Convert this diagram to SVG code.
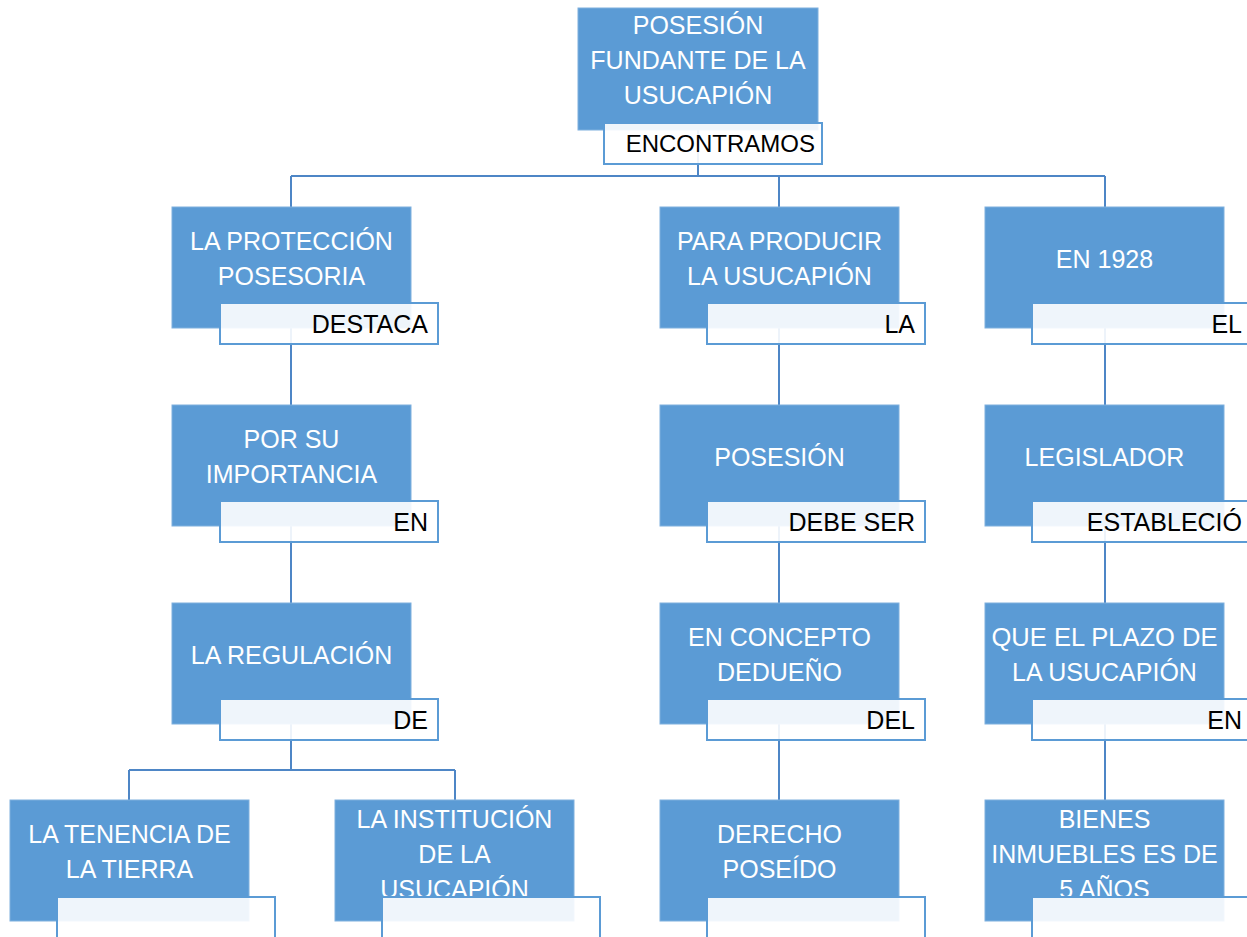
<svg xmlns="http://www.w3.org/2000/svg" width="1247" height="937" viewBox="0 0 1247 937">
<style>
.box{fill:#5B9BD5;stroke:#7FB0DE;stroke-width:1}
.lbl{fill:#FFFFFF;fill-opacity:0.9;stroke:#5B9BD5;stroke-width:2}
.t{font-family:"Liberation Sans",Arial,sans-serif;font-size:25px;fill:#FFFFFF;text-anchor:middle}
.l{font-family:"Liberation Sans",Arial,sans-serif;font-size:25px;fill:#000000;text-anchor:end}
.c{fill:none;stroke:#4E86C6;stroke-width:2}
</style>
<rect width="1247" height="937" fill="#FFFFFF"/>
<g id="connectors">
<path class="c" d="M698,130 V176 M291,176 H1105 M291,176 V207 M779,176 V207 M1105,176 V207"/>
<path class="c" d="M291,328 V405 M291,526 V603 M291,724 V770 M129,770 H455 M129,770 V800 M455,770 V800"/>
<path class="c" d="M779,328 V405 M779,526 V603 M779,724 V800"/>
<path class="c" d="M1105,328 V405 M1105,526 V603 M1105,724 V800"/>
</g>
<g id="n-top">
<rect class="box" x="578" y="8" width="240" height="122"/>
<text class="t" x="698" y="34">POSESIÓN</text>
<text class="t" x="698" y="69">FUNDANTE DE LA</text>
<text class="t" x="698" y="104">USUCAPIÓN</text>
<rect class="lbl" x="604" y="123" width="218" height="41"/>
<text class="l" x="815" y="152" style="font-size:24px">ENCONTRAMOS</text>
</g>
<g id="n-l1">
<rect class="box" x="172" y="207" width="239" height="121"/>
<text class="t" x="291.5" y="250">LA PROTECCIÓN</text>
<text class="t" x="291.5" y="285">POSESORIA</text>
<rect class="lbl" x="220" y="303" width="218" height="41"/>
<text class="l" x="428" y="333">DESTACA</text>
</g>
<g id="n-l2">
<rect class="box" x="172" y="405" width="239" height="121"/>
<text class="t" x="291.5" y="448">POR SU</text>
<text class="t" x="291.5" y="483">IMPORTANCIA</text>
<rect class="lbl" x="220" y="501" width="218" height="41"/>
<text class="l" x="428" y="531">EN</text>
</g>
<g id="n-l3">
<rect class="box" x="172" y="603" width="239" height="121"/>
<text class="t" x="291.5" y="664">LA REGULACIÓN</text>
<rect class="lbl" x="220" y="699" width="218" height="41"/>
<text class="l" x="428" y="729">DE</text>
</g>
<g id="n-l4a">
<rect class="box" x="10" y="800" width="239" height="121"/>
<text class="t" x="129.5" y="843">LA TENENCIA DE</text>
<text class="t" x="129.5" y="878">LA TIERRA</text>
<rect class="lbl" x="57" y="897" width="218" height="41"/>
</g>
<g id="n-l4b">
<rect class="box" x="335" y="800" width="239" height="121"/>
<text class="t" x="454.5" y="828">LA INSTITUCIÓN</text>
<text class="t" x="454.5" y="863">DE LA</text>
<text class="t" x="454.5" y="898">USUCAPIÓN</text>
<rect class="lbl" x="382" y="897" width="218" height="41"/>
</g>
<g id="n-m1">
<rect class="box" x="660" y="207" width="239" height="121"/>
<text class="t" x="779.5" y="250">PARA PRODUCIR</text>
<text class="t" x="779.5" y="285">LA USUCAPIÓN</text>
<rect class="lbl" x="707" y="303" width="218" height="41"/>
<text class="l" x="915" y="333">LA</text>
</g>
<g id="n-m2">
<rect class="box" x="660" y="405" width="239" height="121"/>
<text class="t" x="779.5" y="466">POSESIÓN</text>
<rect class="lbl" x="707" y="501" width="218" height="41"/>
<text class="l" x="915" y="531">DEBE SER</text>
</g>
<g id="n-m3">
<rect class="box" x="660" y="603" width="239" height="121"/>
<text class="t" x="779.5" y="646">EN CONCEPTO</text>
<text class="t" x="779.5" y="681">DEDUEÑO</text>
<rect class="lbl" x="707" y="699" width="218" height="41"/>
<text class="l" x="915" y="729">DEL</text>
</g>
<g id="n-m4">
<rect class="box" x="660" y="800" width="239" height="121"/>
<text class="t" x="779.5" y="843">DERECHO</text>
<text class="t" x="779.5" y="878">POSEÍDO</text>
<rect class="lbl" x="707" y="897" width="218" height="41"/>
</g>
<g id="n-r1">
<rect class="box" x="985" y="207" width="239" height="121"/>
<text class="t" x="1104.5" y="268">EN 1928</text>
<rect class="lbl" x="1032" y="303" width="220" height="41"/>
<text class="l" x="1242" y="333">EL</text>
</g>
<g id="n-r2">
<rect class="box" x="985" y="405" width="239" height="121"/>
<text class="t" x="1104.5" y="466">LEGISLADOR</text>
<rect class="lbl" x="1032" y="501" width="220" height="41"/>
<text class="l" x="1242" y="531">ESTABLECIÓ</text>
</g>
<g id="n-r3">
<rect class="box" x="985" y="603" width="239" height="121"/>
<text class="t" x="1104.5" y="646" textLength="226" lengthAdjust="spacingAndGlyphs">QUE EL PLAZO DE</text>
<text class="t" x="1104.5" y="681">LA USUCAPIÓN</text>
<rect class="lbl" x="1032" y="699" width="220" height="41"/>
<text class="l" x="1242" y="729">EN</text>
</g>
<g id="n-r4">
<rect class="box" x="985" y="800" width="239" height="121"/>
<text class="t" x="1104.5" y="828">BIENES</text>
<text class="t" x="1104.5" y="863">INMUEBLES ES DE</text>
<text class="t" x="1104.5" y="898">5 AÑOS</text>
<rect class="lbl" x="1032" y="897" width="220" height="41"/>
</g>
</svg>
